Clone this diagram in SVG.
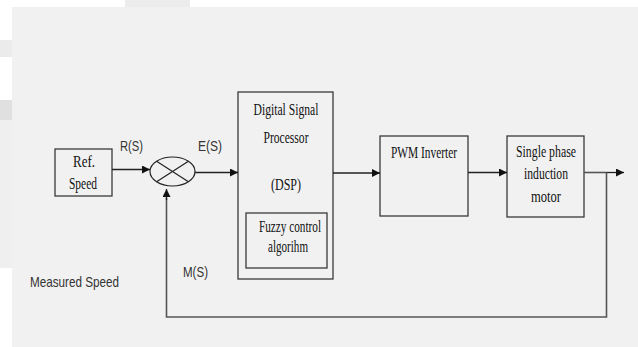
<svg xmlns="http://www.w3.org/2000/svg" width="638" height="347" viewBox="0 0 638 347">
<defs>
<marker id="ah" viewBox="0 0 10 10" refX="10" refY="5" markerWidth="8" markerHeight="8" markerUnits="userSpaceOnUse" orient="auto">
<path d="M0,0 L10,5 L0,10 z" fill="#111"/>
</marker>
</defs>
<style>
.box{fill:none;stroke:#3a3a3a;stroke-width:1.3}
.ser{font-family:"Liberation Serif","Times New Roman",serif;font-size:16px;fill:#111;text-anchor:middle}
.san{font-family:"Liberation Sans",Arial,sans-serif;font-size:15px;fill:#333}
.ln{fill:none;stroke:#222;stroke-width:1.3}
.fb{fill:none;stroke:#555;stroke-width:1.6}
</style>
<rect x="0" y="0" width="638" height="347" fill="#ffffff"/>
<rect x="125" y="0" width="65" height="7" fill="#ececec"/>
<rect x="0" y="40" width="12" height="17" fill="#ebebeb"/>
<rect x="0" y="100" width="12" height="20" fill="#e0e0e0"/>
<rect x="0" y="120" width="12" height="148" fill="#efefef"/>
<rect x="12" y="7" width="626" height="340" fill="#f1f1f1"/>

<g id="ref">
<rect class="box" x="55" y="149" width="57" height="47"/>
<text class="ser" x="84" y="167" textLength="22" lengthAdjust="spacingAndGlyphs">Ref.</text>
<text class="ser" x="83" y="189" textLength="28" lengthAdjust="spacingAndGlyphs">Speed</text>
</g>
<g id="sum">
<ellipse cx="172.5" cy="171.5" rx="22.5" ry="14.5" fill="none" stroke="#222" stroke-width="1.2"/>
<line x1="156.6" y1="161.2" x2="188.4" y2="181.8" stroke="#222" stroke-width="1.2"/>
<line x1="188.4" y1="161.2" x2="156.6" y2="181.8" stroke="#222" stroke-width="1.2"/>
</g>
<g id="dsp">
<rect class="box" x="238" y="92" width="95" height="187"/>
<text class="ser" x="286" y="115" textLength="65" lengthAdjust="spacingAndGlyphs">Digital Signal</text>
<text class="ser" x="286" y="143" textLength="45" lengthAdjust="spacingAndGlyphs">Processor</text>
<text class="ser" x="286" y="190" textLength="30" lengthAdjust="spacingAndGlyphs">(DSP)</text>
</g>
<g id="fuzzy">
<rect class="box" x="246" y="213" width="81" height="55"/>
<text class="ser" x="290" y="232" textLength="62" lengthAdjust="spacingAndGlyphs">Fuzzy control</text>
<text class="ser" x="288" y="252" textLength="40" lengthAdjust="spacingAndGlyphs">algorihm</text>
</g>
<g id="pwm">
<rect class="box" x="380" y="136" width="88" height="80"/>
<text class="ser" x="424" y="158" textLength="66" lengthAdjust="spacingAndGlyphs">PWM Inverter</text>
</g>
<g id="motor">
<rect class="box" x="507" y="136" width="77" height="81"/>
<text class="ser" x="546" y="157" textLength="60" lengthAdjust="spacingAndGlyphs">Single phase</text>
<text class="ser" x="546" y="179" textLength="44" lengthAdjust="spacingAndGlyphs">induction</text>
<text class="ser" x="546" y="202" textLength="30" lengthAdjust="spacingAndGlyphs">motor</text>
</g>

<g id="connectors">
<line class="ln" x1="112" y1="169.5" x2="150" y2="169.5" marker-end="url(#ah)"/>
<line class="ln" x1="195" y1="172.5" x2="238" y2="172.5" marker-end="url(#ah)"/>
<line class="ln" x1="333" y1="173" x2="380" y2="173" marker-end="url(#ah)"/>
<line class="ln" x1="468" y1="172.5" x2="507" y2="172.5" marker-end="url(#ah)"/>
<line class="fb" x1="584" y1="172.5" x2="606" y2="172.5"/>
<line class="ln" x1="606" y1="172.5" x2="624" y2="172.5" marker-end="url(#ah)"/>
<polyline class="fb" points="606.5,172.5 606.5,317 166.5,317 166.5,198"/>
<line class="ln" x1="166.5" y1="200" x2="166.5" y2="189" marker-end="url(#ah)"/>
</g>

<g id="labels">
<text class="san" x="120" y="151" textLength="23" lengthAdjust="spacingAndGlyphs">R(S)</text>
<text class="san" x="198" y="151" textLength="24" lengthAdjust="spacingAndGlyphs">E(S)</text>
<text class="san" x="183" y="277" textLength="25" lengthAdjust="spacingAndGlyphs">M(S)</text>
<text class="san" x="30" y="287" textLength="89" lengthAdjust="spacingAndGlyphs">Measured Speed</text>
</g>
</svg>
